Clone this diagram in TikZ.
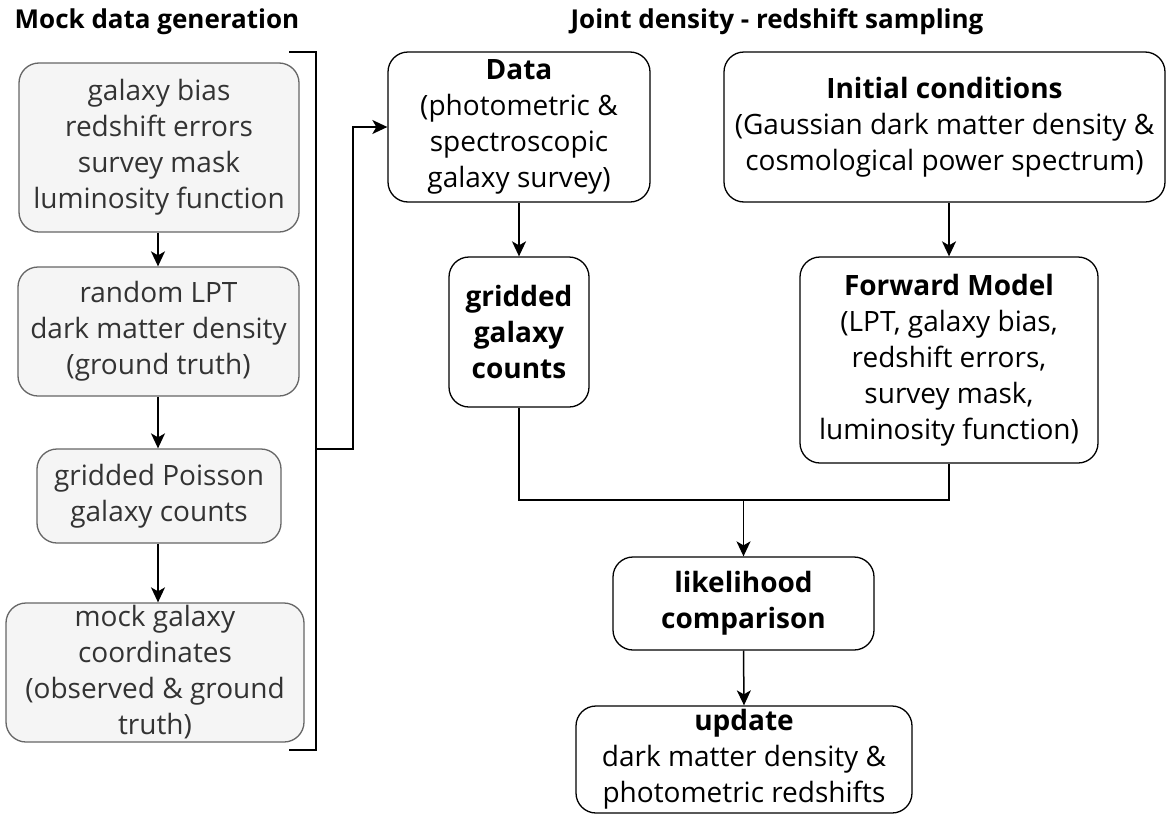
\documentclass[tikz,border=0pt]{standalone}
\usepackage{fontspec}
\setmainfont{Open Sans}
\usetikzlibrary{arrows.meta}
\begin{document}
\begin{tikzpicture}[x=1pt,y=-1pt,
  every node/.style={font=\fontsize{28}{36}\selectfont, align=center, inner sep=0pt},
  graybox/.style={draw=black!60, fill=black!4, text=black!80, line width=1.3pt, rounded corners=20pt},
  whitebox/.style={draw=black, fill=white, text=black, line width=1.3pt, rounded corners=20pt},
  conn/.style={line width=1.5pt, draw=black},
  arr/.style={conn, -{Stealth[length=15pt,width=14pt,inset=4pt]}},
  title/.style={font=\fontsize{26}{30}\selectfont\bfseries}
]
\useasboundingbox (0,0) rectangle (1166,814);

\node[title] (t1) at (157,22) {Mock data generation};
\node[title] (t2) at (777,22) {Joint density - redshift sampling};

\node[graybox, minimum width=280pt, minimum height=169pt] (m1) at (159,147.5)
  {galaxy bias\\redshift errors\\survey mask\\luminosity function};
\node[graybox, minimum width=281pt, minimum height=129pt] (m2) at (158.5,331.5)
  {random LPT\\dark matter density\\(ground truth)};
\node[graybox, minimum width=244pt, minimum height=94pt] (m3) at (159,496)
  {gridded Poisson\\galaxy counts};
\node[graybox, minimum width=298pt, minimum height=139pt] (m4) at (155,672.5)
  {mock galaxy\\coordinates\\(observed \& ground\\truth)};

\node[whitebox, minimum width=262pt, minimum height=150pt] (data) at (519,127)
  {\textbf{Data}\\(photometric \&\\spectroscopic\\galaxy survey)};
\node[whitebox, minimum width=140pt, minimum height=150pt] (grid) at (519,332)
  {\textbf{gridded}\\\textbf{galaxy}\\\textbf{counts}};
\node[whitebox, minimum width=441pt, minimum height=150pt] (init) at (944.5,127)
  {\textbf{Initial conditions}\\(Gaussian dark matter density \&\\cosmological power spectrum)};
\node[whitebox, minimum width=298pt, minimum height=206pt] (fwd) at (949,360)
  {\textbf{Forward Model}\\(LPT, galaxy bias,\\redshift errors,\\survey mask,\\luminosity function)};
\node[whitebox, minimum width=261pt, minimum height=93pt] (like) at (743.5,603.5)
  {\textbf{likelihood}\\\textbf{comparison}};
\node[whitebox, minimum width=336pt, minimum height=107pt] (upd) at (744,759.5)
  {\textbf{update}\\dark matter density \&\\photometric redshifts};

\draw[arr] (m1.south -| 158,0) -- (m2.north -| 158,0);
\draw[arr] (m2.south -| 158,0) -- (m3.north -| 158,0);
\draw[arr] (m3.south -| 158,0) -- (m4.north -| 158,0);

\coordinate (bt) at (289,52);
\coordinate (bb) at (289,750);
\coordinate (bm) at (316,449);
\draw[conn] (bt) -- (316,52) -- (316,750) -- (bb);
\draw[arr] (bm) -- (353,449) |- (data.west);

\draw[arr] (data.south) -- (grid.north);
\draw[arr] (init.south -| fwd.north) -- (fwd.north);

\coordinate (j) at (743.5,500);
\draw[conn] (grid.south) |- (j) -| (fwd.south);
\draw[arr] (j) -- (like.north);
\draw[arr] (like.south) -- (upd.north);
\end{tikzpicture}
\end{document}
